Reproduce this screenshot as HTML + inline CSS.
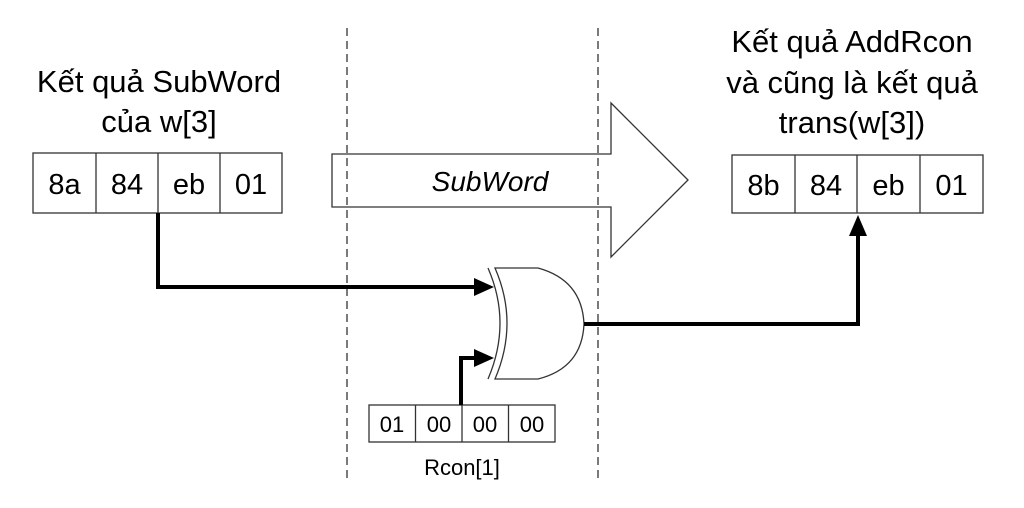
<!DOCTYPE html>
<html><head><meta charset="utf-8"><style>
html,body{margin:0;padding:0;background:#fff;}
svg{display:block;}
text{font-family:"Liberation Sans",Arial,sans-serif;fill:#000;}
</style></head><body>
<svg width="1024" height="508" viewBox="0 0 1024 508" xmlns="http://www.w3.org/2000/svg">
<!-- dashed lines -->
<line x1="347" y1="28" x2="347" y2="482" stroke="#333" stroke-width="1.3" stroke-dasharray="8,5"/>
<line x1="598" y1="28" x2="598" y2="482" stroke="#333" stroke-width="1.3" stroke-dasharray="8,5"/>

<!-- left texts -->
<text x="159" y="92" font-size="31" text-anchor="middle">Kết quả SubWord</text>
<text x="159" y="132" font-size="31" text-anchor="middle">của w[3]</text>
<!-- right texts -->
<text x="852" y="52" font-size="31" text-anchor="middle">Kết quả AddRcon</text>
<text x="852" y="93" font-size="31" text-anchor="middle">và cũng là kết quả</text>
<text x="852" y="133" font-size="31" text-anchor="middle">trans(w[3])</text>

<g stroke="#333" stroke-width="1.3" fill="none">
<rect x="33" y="153" width="249" height="60"/>
<line x1="96" y1="153" x2="96" y2="213"/><line x1="158" y1="153" x2="158" y2="213"/><line x1="220" y1="153" x2="220" y2="213"/>
<rect x="732" y="155" width="251" height="58"/>
<line x1="795" y1="155" x2="795" y2="213"/><line x1="857" y1="155" x2="857" y2="213"/><line x1="920" y1="155" x2="920" y2="213"/>
<rect x="369" y="405" width="186" height="37"/>
<line x1="415.5" y1="405" x2="415.5" y2="442"/><line x1="462" y1="405" x2="462" y2="442"/><line x1="508.5" y1="405" x2="508.5" y2="442"/>
</g>
<g font-size="29" text-anchor="middle">
<text x="64.5" y="194">8a</text><text x="127" y="194">84</text><text x="189" y="194">eb</text><text x="251" y="194">01</text>
<text x="763.5" y="195">8b</text><text x="826" y="195">84</text><text x="888.5" y="195">eb</text><text x="951.5" y="195">01</text>
</g>
<g font-size="22" text-anchor="middle">
<text x="392" y="432">01</text><text x="439" y="432">00</text><text x="485" y="432">00</text><text x="532" y="432">00</text>
<text x="462" y="475">Rcon[1]</text>
</g>

<!-- big arrow -->
<path d="M332,154 L611,154 L611,103 L688,180 L611,257 L611,207 L332,207 Z" fill="none" stroke="#333" stroke-width="1.3"/>
<text x="490" y="191" font-size="28" font-style="italic" text-anchor="middle">SubWord</text>

<!-- XOR gate -->
<path d="M488,268 Q512,323 488,379" fill="none" stroke="#333" stroke-width="1.3"/>
<path d="M495,268 L538,268 Q582,280 584,324 Q582,368 538,379 L495,379 Q519,323 495,268 Z" fill="#fff" stroke="#333" stroke-width="1.3"/>

<!-- wires -->
<g stroke="#000" stroke-width="4" fill="none">
<polyline points="158,213 158,287 476,287"/>
<polyline points="461,405 461,358 476,358"/>
<polyline points="584,324 858,324 858,234"/>
</g>
<g fill="#000">
<polygon points="474,278 494,287 474,296"/>
<polygon points="474,349 494,358 474,367"/>
<polygon points="849,236 858,215 867,236"/>
</g>
</svg>
</body></html>
